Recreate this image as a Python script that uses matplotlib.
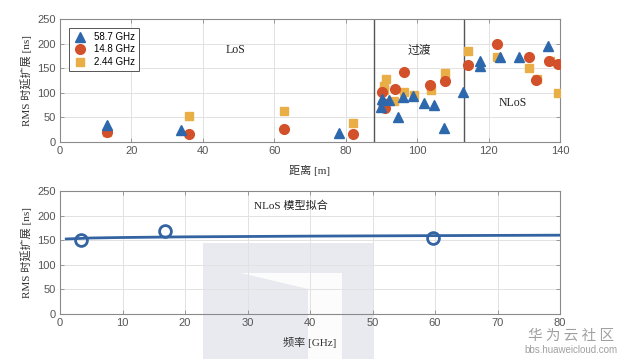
import matplotlib
matplotlib.use("Agg")
import matplotlib.pyplot as plt
from matplotlib.patches import Polygon

# ---- data (top: RMS delay spread vs distance) ----
tri_dist = [13.1, 33.9, 78.0, 90.2, 90.0, 92.0, 94.7, 96.1, 98.8, 101.9, 104.8, 107.5, 112.7, 117.6, 117.6, 123.2, 128.5, 136.5]
tri_rms  = [35, 24, 19, 88, 72, 86, 50, 92, 93, 80, 76, 29, 101, 165, 154, 173, 172, 195]

cir_dist = [13.1, 36.1, 62.8, 82.0, 90.2, 90.5, 91.1, 93.7, 96.2, 103.7, 107.8, 114.2, 122.5, 131.2, 133.3, 137.0, 139.3]
cir_rms  = [20, 16, 26, 16, 101, 80, 70, 107, 143, 116, 125, 157, 200, 173, 126, 164, 158]

sq_dist = [13.1, 36.1, 62.8, 82.0, 91.3, 90.8, 90.6, 93.4, 96.4, 99.0, 103.9, 107.8, 114.3, 122.5, 131.3, 133.5, 137.2, 139.3]
sq_rms  = [20, 52, 63, 39, 129, 114, 106, 83, 101, 96, 106, 141, 184, 173, 151, 128, 164, 99]

region_bounds = [88, 113]

# ---- data (bottom: NLoS model fit vs frequency) ----
meas_freq = [3.4, 16.8, 59.6]
meas_rms  = [151, 168, 154]
fit_freq = [1, 5, 10, 20, 40, 60, 80]
fit_rms  = [152.5, 154.5, 155.5, 156.8, 158.3, 159.3, 160.2]

labels = ["58.7 GHz", "14.8 GHz", "2.44 GHz"]

C_BLUE = "#2E68AC"
C_RED = "#D2502A"
C_YEL = "#E9AE45"
C_LINE = "#3463A2"

SERIF_CJK = ["Liberation Serif", "Noto Sans CJK SC"]
SANS = ["Liberation Sans", "DejaVu Sans"]
TICKC = "#555555"

fig = plt.figure(figsize=(6.24, 3.59), dpi=100)
W, H = 624, 359

def ax_rect(l, t, r, b):
    return [l / W, 1 - b / H, (r - l) / W, (b - t) / H]

def style(ax):
    ax.set_facecolor("none")
    ax.grid(True, color="#e2e2e2", linewidth=0.7)
    ax.set_axisbelow(True)
    for s in ax.spines.values():
        s.set_color("#8a8a8a")
        s.set_linewidth(0.8)
    ax.tick_params(direction="in", length=3, width=0.6, color="#8a8a8a",
                   labelsize=8, labelcolor=TICKC, top=True, right=True, pad=3)
    for lab in ax.get_xticklabels() + ax.get_yticklabels():
        lab.set_fontfamily(SANS)

# ---------- watermark (behind the axes) ----------
def P(x, y):
    return (x / W, 1 - y / H)

fig.patches.append(Polygon([P(203, 243), P(374, 243), P(374, 359), P(203, 359)],
                           closed=True, transform=fig.transFigure, facecolor="#e8eaf0",
                           edgecolor="none", zorder=-2))
fig.patches.append(Polygon([P(241, 273), P(342, 273), P(342, 359), P(308, 359), P(308, 289)],
                           closed=True, transform=fig.transFigure, facecolor="#fcfcfd",
                           edgecolor="none", zorder=-1))

# ---------- top axes ----------
ax1 = fig.add_axes(ax_rect(60, 19, 560, 142))
ax1.set_xlim(0, 140)
ax1.set_ylim(0, 250)
ax1.set_xticks(range(0, 141, 20))
ax1.set_yticks(range(0, 251, 50))
style(ax1)
for xb in region_bounds:
    ax1.axvline(xb, color="#555555", linewidth=1.0, zorder=2)
ax1.plot(sq_dist, sq_rms, linestyle="none", marker="s", ms=5.5, color=C_YEL, label=labels[2], zorder=3)
ax1.plot(cir_dist, cir_rms, linestyle="none", marker="o", ms=7, color=C_RED, label=labels[1], zorder=3)
ax1.plot(tri_dist, tri_rms, linestyle="none", marker="^", ms=7, color=C_BLUE, label=labels[0], zorder=3)
h, l = ax1.get_legend_handles_labels()
leg = ax1.legend(h[::-1], l[::-1], loc="upper left", bbox_to_anchor=(0.008, 0.965),
                 prop={"family": SANS, "size": 7}, frameon=True, fancybox=False,
                 edgecolor="#555555", framealpha=1, borderpad=0.4, labelspacing=0.25,
                 handletextpad=0.7, handlelength=1.5)
leg.get_frame().set_linewidth(0.7)
ax1.text(49, 186, "LoS", ha="center", va="center", family=SERIF_CJK, fontsize=8.5, color="#222222")
ax1.text(100.5, 186, "过渡", ha="center", va="center", family=SERIF_CJK, fontsize=8.5, color="#222222")
ax1.text(126.8, 79, "NLoS", ha="center", va="center", family=SERIF_CJK, fontsize=8.5, color="#222222")
ax1.set_xlabel("距离 [m]", family=SERIF_CJK, fontsize=8, color="#333333", labelpad=6)
ax1.set_ylabel("RMS 时延扩展 [ns]", family=SERIF_CJK, fontsize=8, color="#333333", labelpad=4)

# ---------- bottom axes ----------
ax2 = fig.add_axes(ax_rect(60, 191, 560, 314))
ax2.set_xlim(0, 80)
ax2.set_ylim(0, 250)
ax2.set_xticks(range(0, 81, 10))
ax2.set_yticks(range(0, 251, 50))
style(ax2)
ax2.plot(fit_freq, fit_rms, color=C_LINE, linewidth=2.0, zorder=3)
ax2.plot(meas_freq, meas_rms, linestyle="none", marker="o", ms=8.5, mfc="none",
         mec=C_LINE, mew=2.0, zorder=4)
ax2.text(37, 221, "NLoS 模型拟合", ha="center", va="center", family=SERIF_CJK, fontsize=8, color="#222222")
ax2.set_xlabel("频率 [GHz]", family=SERIF_CJK, fontsize=8, color="#333333", labelpad=6)
ax2.set_ylabel("RMS 时延扩展 [ns]", family=SERIF_CJK, fontsize=8, color="#333333", labelpad=4)

fig.text(571 / W, 1 - 336 / H, "华 为 云 社 区", family=["Noto Sans CJK SC"], fontsize=10.5,
         color="#a0a0a0", ha="center", va="center", zorder=7)
fig.text(571 / W, 1 - 350 / H, "bbs.huaweicloud.com", family=SANS, fontsize=7,
         color="#a0a0a0", ha="center", va="center", zorder=7)

fig.savefig("out.png", dpi=100)
